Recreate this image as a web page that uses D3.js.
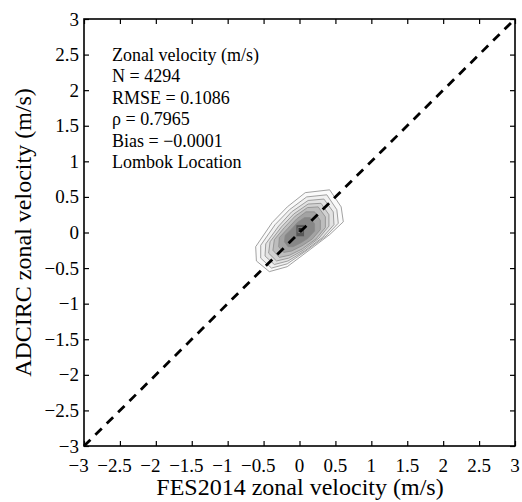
<!DOCTYPE html>
<html>
<head>
<meta charset="utf-8">
<script src="https://cdn.jsdelivr.net/npm/d3@7"></script>
<style>
  html, body { margin: 0; padding: 0; background: #fff; }
  svg { display: block; }
  text { font-family: "Liberation Serif", "Times New Roman", serif; fill: #000; }
</style>
</head>
<body>
<svg id="chart" width="522" height="502"></svg>
<script>
// ---- data ----
const xDomain = [-3, 3];
const yDomain = [-3, 3];
const tickValues = [-3, -2.5, -2, -1.5, -1, -0.5, 0, 0.5, 1, 1.5, 2, 2.5, 3];
const refLineX = [-3, 3];           // 1:1 reference line (y = x)
const xTitle = "FES2014 zonal velocity (m/s)";
const yTitle = "ADCIRC zonal velocity (m/s)";
const statsLines = [
  "Zonal velocity (m/s)",
  "N = 4294",
  "RMSE = 0.1086",
  "\u03C1 = 0.7965",
  "Bias = \u22120.0001",
  "Lombok Location"
];
// density contour levels (outer -> inner), vertices in data units (m/s)
const contourLevel1 = [[0.08,0.56],[0.42,0.60],[0.58,0.36],[0.61,0.15],[0.42,-0.03],[0.12,-0.26],[-0.17,-0.48],[-0.42,-0.55],[-0.60,-0.40],[-0.61,-0.20],[-0.38,0.14],[-0.17,0.36]];
const contourLevel2 = [[0.10,0.50],[0.38,0.53],[0.52,0.32],[0.54,0.13],[0.37,-0.05],[0.09,-0.26],[-0.17,-0.44],[-0.39,-0.50],[-0.54,-0.36],[-0.54,-0.18],[-0.34,0.11],[-0.14,0.32]];
const contourLevel3 = [[0.12,0.45],[0.34,0.47],[0.47,0.29],[0.48,0.11],[0.32,-0.07],[0.07,-0.26],[-0.16,-0.40],[-0.35,-0.45],[-0.48,-0.33],[-0.47,-0.16],[-0.29,0.09],[-0.11,0.29]];
const contourLevel4 = [[0.12,0.40],[0.30,0.41],[0.41,0.25],[0.41,0.09],[0.27,-0.08],[0.05,-0.25],[-0.15,-0.36],[-0.32,-0.40],[-0.43,-0.29],[-0.41,-0.13],[-0.25,0.08],[-0.08,0.26]];
const contourLevel5 = [[0.11,0.35],[0.26,0.36],[0.36,0.22],[0.36,0.07],[0.23,-0.09],[0.04,-0.23],[-0.14,-0.32],[-0.28,-0.35],[-0.37,-0.25],[-0.35,-0.10],[-0.21,0.07],[-0.06,0.23]];
const contourLevel6 = [[0.09,0.29],[0.21,0.29],[0.29,0.17],[0.29,0.04],[0.18,-0.09],[0.03,-0.19],[-0.11,-0.26],[-0.22,-0.28],[-0.29,-0.20],[-0.28,-0.07],[-0.16,0.06],[-0.04,0.19]];
const contourLevel7 = [[0.07,0.21],[0.15,0.21],[0.21,0.12],[0.21,0.02],[0.12,-0.08],[0.01,-0.15],[-0.09,-0.20],[-0.16,-0.20],[-0.21,-0.13],[-0.20,-0.04],[-0.11,0.05],[-0.03,0.14]];
const contourLevel8 = [[-0.05,0.11],[0.07,0.11],[0.07,-0.06],[-0.05,-0.06]];
const contourLevel9 = [[-0.02,0.07],[0.04,0.07],[0.04,0.00],[-0.02,0.00]];
const contourLevels = [contourLevel1, contourLevel2, contourLevel3, contourLevel4, contourLevel5, contourLevel6, contourLevel7, contourLevel8, contourLevel9];
const contourFills = ["#fafafa", "#f0f0f0", "#e2e2e2", "#d2d2d2", "#bdbdbd", "#a3a3a3", "#878787", "#575757", "#262626"];

// ---- layout ----
const svg = d3.select("#chart");
const plot = { left: 84, right: 515, top: 19, bottom: 446 };
const x = d3.scaleLinear().domain(xDomain).range([plot.left, plot.right]);
const y = d3.scaleLinear().domain(yDomain).range([plot.bottom, plot.top]);

svg.append("rect").attr("width", 522).attr("height", 502).attr("fill", "#fff");

// contours
const line = d3.line().x(d => x(d[0])).y(d => y(d[1])).curve(d3.curveLinearClosed);
svg.append("g").selectAll("path").data(contourLevels).join("path")
  .attr("d", d => line(d))
  .attr("fill", (d, i) => contourFills[i])
  .attr("stroke", "#8a8a8a")
  .attr("stroke-width", 0.8);

// reference 1:1 dashed line
svg.append("line")
  .attr("x1", x(refLineX[0])).attr("y1", y(refLineX[0]))
  .attr("x2", x(refLineX[1])).attr("y2", y(refLineX[1]))
  .attr("stroke", "#000").attr("stroke-width", 2.8)
  .attr("stroke-dasharray", "9,7");

// axes with inward ticks on all 4 sides
const tickLen = 5;
const fmt = v => String(Math.abs(v));
function addAxis(axis, transform) {
  const g = svg.append("g").attr("transform", transform).call(axis);
  g.select(".domain").remove();
  g.selectAll(".tick line").attr("stroke", "#000").attr("stroke-width", 1.2);
  return g;
}
addAxis(d3.axisBottom(x).tickValues(tickValues).tickSize(-tickLen).tickFormat(""), `translate(0,${plot.bottom})`);
addAxis(d3.axisTop(x).tickValues(tickValues).tickSize(-tickLen).tickFormat(""), `translate(0,${plot.top})`);
addAxis(d3.axisLeft(y).tickValues(tickValues).tickSize(-tickLen).tickFormat(""), `translate(${plot.left},0)`);
addAxis(d3.axisRight(y).tickValues(tickValues).tickSize(-tickLen).tickFormat(""), `translate(${plot.right},0)`);

// frame
svg.append("rect")
  .attr("x", plot.left).attr("y", plot.top)
  .attr("width", plot.right - plot.left).attr("height", plot.bottom - plot.top)
  .attr("fill", "none").attr("stroke", "#000").attr("stroke-width", 1.6);

// x tick labels: numeric part centred on tick, minus hangs to the left
const fs = 19;
const xl = svg.append("g").attr("font-size", fs);
tickValues.forEach(v => {
  const t = xl.append("text").attr("x", x(v)).attr("y", 472).attr("text-anchor", "middle").text(fmt(v));
  if (v < 0) {
    const w = t.node().getComputedTextLength();
    t.remove();
    xl.append("text").attr("x", x(v) + w / 2).attr("y", 472).attr("text-anchor", "end").text("\u2212" + fmt(v));
  }
});
// y tick labels
const yl = svg.append("g").attr("font-size", fs);
tickValues.forEach(v => {
  yl.append("text").attr("x", 79).attr("y", y(v) + 6.5).attr("text-anchor", "end")
    .text((v < 0 ? "\u2212" : "") + fmt(v));
});

// axis titles
svg.append("text").attr("x", 300).attr("y", 495).attr("text-anchor", "middle")
  .attr("font-size", 24).text(xTitle);
svg.append("text").attr("transform", `translate(31,${(plot.top + plot.bottom) / 2}) rotate(-90)`)
  .attr("text-anchor", "middle").attr("font-size", 24).text(yTitle);

// stats annotation
const st = svg.append("g").attr("font-size", 18);
statsLines.forEach((s, i) => {
  st.append("text").attr("x", 112).attr("y", 61 + i * 21.4).text(s);
});
</script>
</body>
</html>
